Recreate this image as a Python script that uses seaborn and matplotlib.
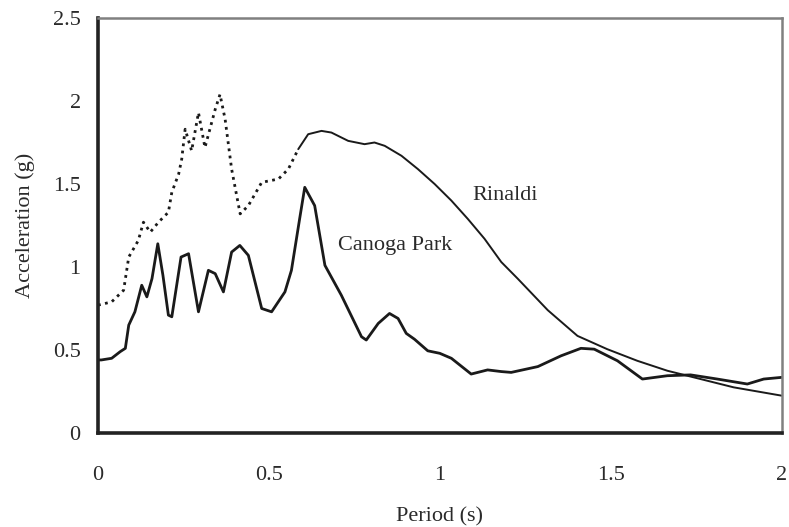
import matplotlib
matplotlib.use("Agg")
import matplotlib.pyplot as plt
import seaborn as sns
import pandas as pd

# Response spectra: period (s) vs spectral acceleration (g)
canoga_period = [0.00, 0.01, 0.04, 0.065, 0.08, 0.09, 0.108, 0.128, 0.143, 0.158,
                 0.175, 0.19, 0.206, 0.216, 0.243, 0.265, 0.294, 0.323, 0.343, 0.367,
                 0.391, 0.415, 0.44, 0.479, 0.508, 0.547, 0.566, 0.59, 0.605, 0.634,
                 0.664, 0.712, 0.771, 0.785, 0.82, 0.853, 0.878, 0.902, 0.926, 0.965,
                 1.0, 1.034, 1.092, 1.14, 1.18, 1.209, 1.287, 1.355, 1.413, 1.452,
                 1.52, 1.593, 1.666, 1.734, 1.812, 1.9, 1.948, 2.0]
canoga_accel = [0.44, 0.44, 0.45, 0.49, 0.51, 0.65, 0.73, 0.89, 0.82, 0.93,
                1.14, 0.95, 0.71, 0.70, 1.06, 1.08, 0.73, 0.98, 0.96, 0.85,
                1.09, 1.13, 1.07, 0.75, 0.73, 0.85, 0.98, 1.29, 1.48, 1.37,
                1.01, 0.83, 0.58, 0.56, 0.66, 0.72, 0.69, 0.60, 0.565, 0.495,
                0.48, 0.45, 0.355, 0.38, 0.37, 0.365, 0.40, 0.465, 0.51, 0.505,
                0.435, 0.325, 0.345, 0.35, 0.325, 0.295, 0.325, 0.335]

rinaldi_period = [0.00, 0.02, 0.04, 0.06, 0.075, 0.09, 0.118, 0.133, 0.153, 0.177,
                  0.206, 0.216, 0.236, 0.245, 0.255, 0.274, 0.294, 0.313, 0.343, 0.357,
                  0.372, 0.391, 0.416, 0.44, 0.479, 0.528, 0.557, 0.586, 0.615, 0.654,
                  0.683, 0.732, 0.78, 0.809, 0.839, 0.888, 0.936, 0.985, 1.034, 1.082,
                  1.131, 1.18, 1.228, 1.316, 1.403, 1.49, 1.578, 1.666, 1.763, 1.86, 2.0]
rinaldi_accel = [0.77, 0.78, 0.79, 0.83, 0.86, 1.06, 1.16, 1.27, 1.21, 1.27,
                 1.33, 1.45, 1.56, 1.65, 1.83, 1.70, 1.93, 1.72, 1.95, 2.04,
                 1.89, 1.59, 1.32, 1.37, 1.51, 1.53, 1.59, 1.71, 1.80, 1.82,
                 1.81, 1.76, 1.74, 1.75, 1.73, 1.67, 1.59, 1.50, 1.40, 1.29,
                 1.17, 1.03, 0.93, 0.74, 0.585, 0.505, 0.435, 0.375, 0.325, 0.275, 0.225]

x_ticks = [0, 0.5, 1, 1.5, 2]
x_tick_labels = ["0", "0.5", "1", "1.5", "2"]
y_ticks = [0, 0.5, 1, 1.5, 2, 2.5]
y_tick_labels = ["0", "0.5", "1", "1.5", "2", "2.5"]

sns.set_theme(style="white")
plt.rcParams["font.family"] = ["Liberation Serif", "DejaVu Serif"]
plt.rcParams["lines.solid_joinstyle"] = "round"
plt.rcParams["lines.solid_capstyle"] = "round"

text_color = "#2a2a2a"
line_color = "#1a1a1a"

canoga = pd.DataFrame({"period": canoga_period, "accel": canoga_accel})
rinaldi = pd.DataFrame({"period": rinaldi_period, "accel": rinaldi_accel})
split = 0.586
rinaldi_short = rinaldi[rinaldi["period"] <= split]
rinaldi_long = rinaldi[rinaldi["period"] >= split]

fig = plt.figure(figsize=(7.89, 5.27), dpi=100)
ax = fig.add_axes([0.1242, 0.1784, 0.9905 - 0.1242, 0.9658 - 0.1784])

sns.lineplot(data=canoga, x="period", y="accel", ax=ax, color=line_color,
             linewidth=2.0, sort=False)
sns.lineplot(data=rinaldi_short, x="period", y="accel", ax=ax, color=line_color,
             linewidth=2.0, linestyle=(0, (1.0, 1.6)), sort=False)
sns.lineplot(data=rinaldi_long, x="period", y="accel", ax=ax, color=line_color,
             linewidth=1.4, sort=False)

ax.set_xlim(0, 2)
ax.set_ylim(0, 2.5)
ax.set_xticks(x_ticks)
ax.set_xticklabels(x_tick_labels)
ax.set_yticks(y_ticks)
ax.set_yticklabels(y_tick_labels)

ax.tick_params(axis="both", which="major", direction="out", length=6.5, width=1.5,
               color="#333333", labelsize=16, labelcolor=text_color)
ax.tick_params(axis="y", pad=6)
ax.tick_params(axis="x", pad=17)

for side in ("left", "bottom"):
    ax.spines[side].set_color("#222222")
    ax.spines[side].set_linewidth(2.6)
for side in ("top", "right"):
    ax.spines[side].set_color("#808080")
    ax.spines[side].set_linewidth(1.8)

ax.set_xlabel("Period (s)", fontsize=16, color=text_color, labelpad=16)
ax.set_ylabel("Acceleration (g)", fontsize=16, color=text_color, labelpad=13)

ax.text(1.19, 1.43, "Rinaldi", fontsize=16, color=text_color, ha="center", va="center")
ax.text(0.87, 1.13, "Canoga Park", fontsize=16, color=text_color, ha="center", va="center")

fig.savefig("out.png", dpi=100, facecolor="white")
